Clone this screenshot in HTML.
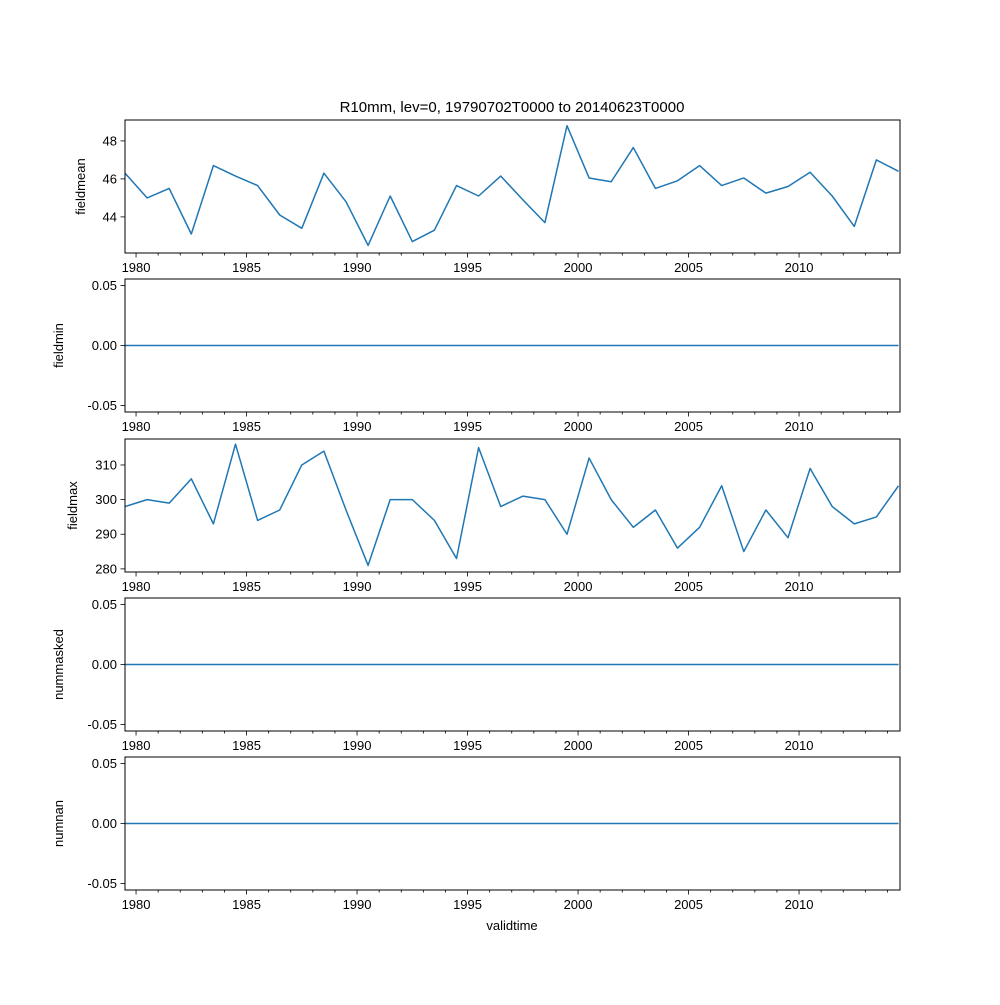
<!DOCTYPE html>
<html><head><meta charset="utf-8"><style>
body{margin:0;background:#fff}
svg{font-family:"Liberation Sans","DejaVu Sans",sans-serif}
</style></head><body>
<svg id="chart" width="1000" height="1000" viewBox="0 0 1000 1000">
<rect width="1000" height="1000" fill="#fff"/>
<text x="512" y="112" font-size="15" text-anchor="middle">R10mm, lev=0, 19790702T0000 to 20140623T0000</text>
<text x="512" y="930" font-size="13" text-anchor="middle">validtime</text>
</svg>
<script>
const years = [1979,1980,1981,1982,1983,1984,1985,1986,1987,1988,1989,1990,1991,1992,1993,1994,1995,1996,1997,1998,1999,2000,2001,2002,2003,2004,2005,2006,2007,2008,2009,2010,2011,2012,2013,2014];
const fieldmean = [46.3,45.0,45.5,43.1,46.7,46.15,45.65,44.1,43.4,46.3,44.8,42.5,45.1,42.7,43.3,45.65,45.1,46.15,44.9,43.7,48.8,46.05,45.85,47.65,45.5,45.9,46.7,45.65,46.05,45.25,45.6,46.35,45.1,43.5,47.0,46.4];
const fieldmin = years.map(()=>0);
const fieldmax = [298,300,299,306,293,316,294,297,310,314,297,281,300,300,294,283,315,298,301,300,290,312,300,292,297,286,292,304,285,297,289,309,298,293,295,304];
const nummasked = years.map(()=>0);
const numnan = years.map(()=>0);
const xTicks = [1980,1985,1990,1995,2000,2005,2010];
const meanTicks = [44,46,48];
const maxTicks = [280,290,300,310];
const zeroTicks = [-0.05,0.00,0.05];

const svg=document.getElementById('chart');
const NS='http://www.w3.org/2000/svg';
const X0=125,X1=900;
function xs(t){return X0+(t-1979.5)*22.1;}
function mk(tag,attrs,parent){const e=document.createElementNS(NS,tag);for(const k in attrs)e.setAttribute(k,attrs[k]);(parent||svg).appendChild(e);return e;}

const panels=[
 {name:'fieldmean',data:fieldmean,top:120,ymin:42.1,ymax:49.1,ticks:meanTicks,fmt:v=>String(v),lx:85},
 {name:'fieldmin',data:fieldmin,top:279,ymin:-0.0555,ymax:0.0555,ticks:zeroTicks,fmt:v=>v.toFixed(2),lx:63},
 {name:'fieldmax',data:fieldmax,top:439,ymin:279.1,ymax:317.5,ticks:maxTicks,fmt:v=>String(v),lx:77},
 {name:'nummasked',data:nummasked,top:598,ymin:-0.0555,ymax:0.0555,ticks:zeroTicks,fmt:v=>v.toFixed(2),lx:63},
 {name:'numnan',data:numnan,top:757,ymin:-0.0555,ymax:0.0555,ticks:zeroTicks,fmt:v=>v.toFixed(2),lx:63}
];
const H=133;
panels.forEach(p=>{
 const g=mk('g',{});
 
 
 const ys=v=>p.top+H-(v-p.ymin)/(p.ymax-p.ymin)*H;
 const pts=p.data.map((v,i)=>xs(years[i]+0.5)+','+ys(v).toFixed(2)).join(' ');
 const ln=mk('polyline',{points:pts,fill:'none',stroke:'#1f77b4','stroke-width':1.5,'stroke-linejoin':'round'},g);
 
 
 const fr=mk('rect',{x:X0,y:p.top,width:X1-X0,height:H,fill:'none',stroke:'#000','stroke-width':1},g);
 
 
 for(let y=1980;y<=2014;y++){
   const x=xs(y);
   const major=xTicks.includes(y);
   mk('line',{x1:x,x2:x,y1:p.top+H,y2:p.top+H+(major?4.5:2.5),stroke:'#000','stroke-width':0.8},g);
 }
 xTicks.forEach(t=>{
   const tx=mk('text',{x:xs(t),y:p.top+H+19,'font-size':13,'text-anchor':'middle'},g);
   tx.textContent=t;
   
   
 });
 p.ticks.forEach(t=>{
   const y=ys(t);
   mk('line',{x1:X0-4.5,x2:X0,y1:y,y2:y,stroke:'#000','stroke-width':0.8},g);
   const tx=mk('text',{x:X0-8,y:y+4.5,'font-size':13,'text-anchor':'end'},g);
   tx.textContent=p.fmt(t);
   
   
 });
 const lx=p.lx;
 const lb=mk('text',{x:lx,y:p.top+H/2,'font-size':13,'text-anchor':'middle',transform:`rotate(-90 ${lx} ${p.top+H/2})`},g);
 lb.textContent=p.name;
 
 
});
</script>
</body></html>
